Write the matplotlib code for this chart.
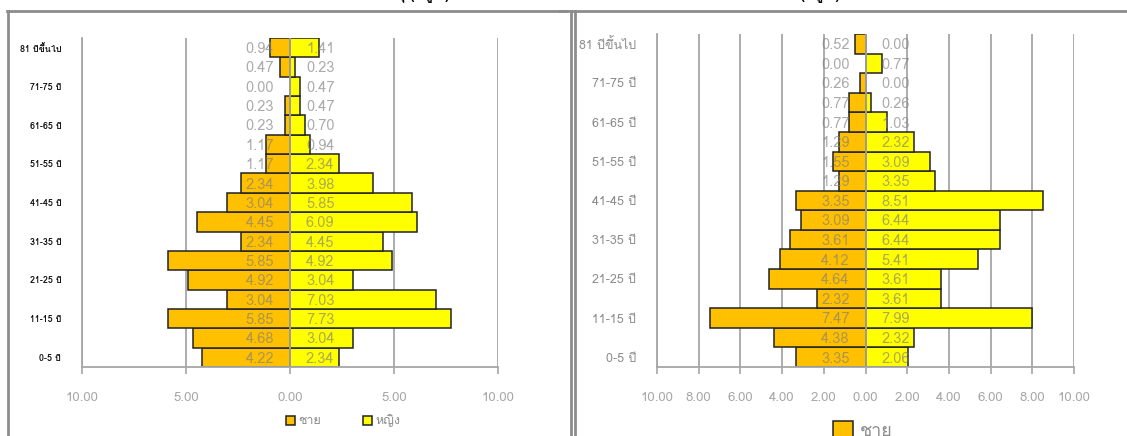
import matplotlib
matplotlib.use("Agg")
import matplotlib.pyplot as plt
from matplotlib.lines import Line2D
from matplotlib.patches import Patch

plt.rcParams['font.family'] = ['Loma', 'DejaVu Sans']

# age groups, youngest first
age_groups = ['0-5 ปี', '6-10 ปี', '11-15 ปี', '16-20 ปี', '21-25 ปี', '26-30 ปี',
              '31-35 ปี', '36-40 ปี', '41-45 ปี', '46-50 ปี', '51-55 ปี', '56-60 ปี',
              '61-65 ปี', '66-70 ปี', '71-75 ปี', '76-80 ปี', '81 ปีขึ้นไป']

# percentage by sex, first community
male_a = [4.22, 4.68, 5.85, 3.04, 4.92, 5.85, 2.34, 4.45, 3.04, 2.34,
          1.17, 1.17, 0.23, 0.23, 0.00, 0.47, 0.94]
female_a = [2.34, 3.04, 7.73, 7.03, 3.04, 4.92, 4.45, 6.09, 5.85, 3.98,
            2.34, 0.94, 0.70, 0.47, 0.47, 0.23, 1.41]

# percentage by sex, second community
male_b = [3.35, 4.38, 7.47, 2.32, 4.64, 4.12, 3.61, 3.09, 3.35, 1.29,
          1.55, 1.29, 0.77, 0.77, 0.26, 0.00, 0.52]
female_b = [2.06, 2.32, 7.99, 3.61, 3.61, 5.41, 6.44, 6.44, 8.51, 3.35,
            3.09, 2.32, 1.03, 0.26, 0.00, 0.77, 0.00]

x_ticks_a = [-10, -5, 0, 5, 10]
x_ticks_b = [-10, -8, -6, -4, -2, 0, 2, 4, 6, 8, 10]

legend_labels = ['ชาย', 'หญิง']
titles = ['ร้อยละประชากร จำแนกตามอายุ (หมู่ 1)',
          'ร้อยละประชากร (หมู่ 2)']

MALE = '#FFC000'
FEMALE = '#FFFF00'
GRID = '#a6a6a6'
TXT = '#a6a6a6'

W, H = 1127, 436
fig = plt.figure(figsize=(W / 100, H / 100), dpi=100)


def px_axes(x0, y0, x1, y1):
    # axes from pixel box (top-left origin)
    return fig.add_axes([x0 / W, 1 - y1 / H, (x1 - x0) / W, (y1 - y0) / H])


def pyramid(ax, male, female, ticks, ylab_kw):
    y = list(range(len(age_groups)))
    neg = [-v for v in male]
    for t in ticks:
        if t != 0:
            ax.axvline(t, color=GRID, lw=1.3, zorder=0)
    ax.barh(y, neg, height=1.0, color=MALE, edgecolor='#222222', lw=1.1, zorder=2)
    ax.barh(y, female, height=1.0, color=FEMALE, edgecolor='#222222', lw=1.1, zorder=2)
    ax.axvline(0, color=GRID, lw=1.3, zorder=3)

    for yi, m, f in zip(y, male, female):
        ax.annotate(f'{m:.2f}', (0, yi), xytext=(-11.5, -1), textcoords='offset points',
                    ha='right', va='center', fontsize=10.5, color='#7f7f7f', alpha=0.65,
                    zorder=4)
        ax.annotate(f'{f:.2f}', (0, yi), xytext=(11.5, -1), textcoords='offset points',
                    ha='left', va='center', fontsize=10.5, color='#7f7f7f', alpha=0.65,
                    zorder=4)

    ax.set_xlim(-10, 10)
    ax.set_ylim(-0.5, len(age_groups) - 0.5)
    ax.set_xticks(ticks)
    ax.set_xticklabels([f'{abs(t):.2f}' for t in ticks])
    ax.set_yticks(y[::2])
    ax.set_yticklabels(age_groups[::2], **ylab_kw)
    ax.tick_params(axis='x', colors=GRID, labelcolor=TXT, length=5, width=1.2,
                   labelsize=9.5, pad=13)
    ax.tick_params(axis='y', length=0, pad=15)
    for s in ['top', 'right']:
        ax.spines[s].set_visible(False)
    for s in ['left', 'bottom']:
        ax.spines[s].set_color(GRID)
        ax.spines[s].set_linewidth(1.3)


ax1 = px_axes(82, 38, 498, 367)
pyramid(ax1, male_a, female_a, x_ticks_a,
        dict(fontsize=6.5, fontweight='bold', color='#111111'))

ax2 = px_axes(657, 34, 1074, 367)
pyramid(ax2, male_b, female_b, x_ticks_b,
        dict(fontsize=9, color='#8c8c8c'))

handles = [Patch(facecolor=MALE, edgecolor='#222222', lw=1.1),
           Patch(facecolor=FEMALE, edgecolor='#222222', lw=1.1)]

fig.legend(handles, legend_labels, loc='center', bbox_to_anchor=(343 / W, 1 - 421 / H),
           ncol=2, frameon=False, fontsize=9, labelcolor='#8c8c8c',
           handlelength=0.75, handleheight=0.75, handletextpad=0.25, columnspacing=3.3)

fig.legend(handles, legend_labels, loc='upper left', bbox_to_anchor=(817 / W, 1 - 405 / H),
           ncol=1, frameon=False, fontsize=13, labelcolor='#8c8c8c',
           handlelength=1.1, handleheight=1.1, handletextpad=0.4)

# panel frames
frame = dict(color='#8c8c8c', lw=2, transform=fig.transFigure)
fig.add_artist(Line2D([7.5 / W, 7.5 / W], [0, 1 - 11 / H], **frame))
fig.add_artist(Line2D([7 / W, 566 / W], [1 - 11 / H, 1 - 11 / H], **frame))
fig.add_artist(Line2D([571 / W, 571 / W], [0, 1 - 11 / H], **frame))
fig.add_artist(Line2D([574.5 / W, 574.5 / W], [0, 1 - 11 / H], **frame))
fig.add_artist(Line2D([560 / W, 1 / 1], [1 - 11 / H, 1 - 11 / H], **frame))

# chart titles sit above the top edge, only their lowest strokes show
fig.text(330 / W, 1 + 1 / H, titles[0], ha='center', va='baseline', fontsize=10,
         fontweight='bold', color='black')
fig.text(770 / W, 1 + 1 / H, titles[1], ha='center', va='baseline', fontsize=10,
         fontweight='bold', color='black')

fig.savefig('out.png', dpi=100)
